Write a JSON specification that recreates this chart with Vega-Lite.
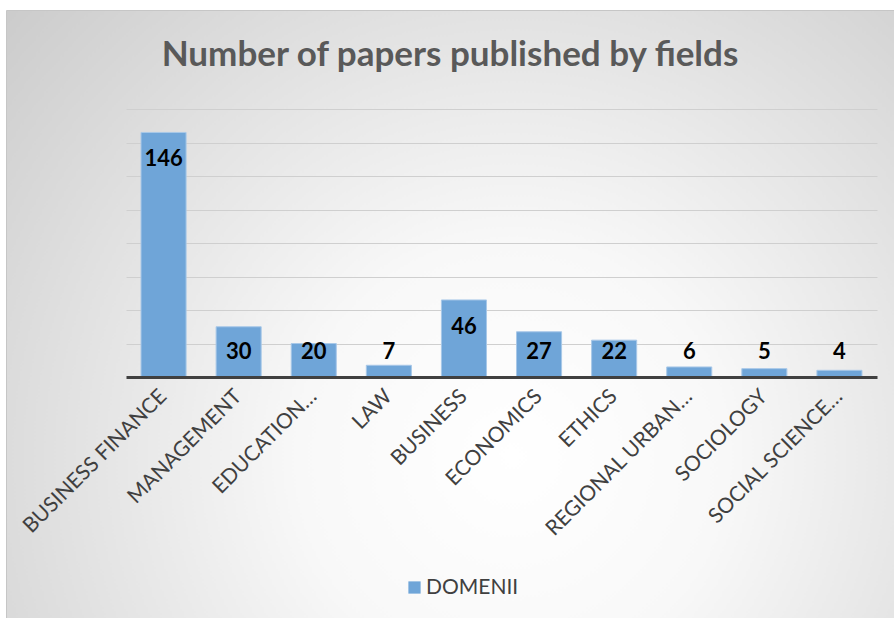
{
  "$schema": "https://vega.github.io/schema/vega-lite/v6.json",
  "autosize": {"type": "none"},
  "width": 888,
  "height": 608,
  "padding": {"left": 6, "top": 10, "right": 0, "bottom": 0},
  "background": "#ffffff",
  "title": {
    "text": "Number of papers published by fields",
    "font": "Lato",
    "fontSize": 35,
    "fontWeight": "bold",
    "color": "#595959",
    "anchor": "middle",
    "frame": "group",
    "baseline": "alphabetic",
    "offset": -91
  },
  "config": {
    "font": "Lato",
    "view": {
      "fill": {
        "gradient": "radial",
        "x1": 0.57, "y1": 0.66, "r1": 0,
        "x2": 0.57, "y2": 0.66, "r2": 0.8,
        "stops": [
          {"offset": 0, "color": "#ffffff"},
          {"offset": 0.3, "color": "#f8f8f8"},
          {"offset": 1, "color": "#c8c8c8"}
        ]
      },
      "stroke": "#c6c6c6",
      "strokeWidth": 1
    }
  },
  "data": {
    "values": [
      {"field": "BUSINESS FINANCE", "papers": 146},
      {"field": "MANAGEMENT", "papers": 30},
      {"field": "EDUCATION…", "papers": 20},
      {"field": "LAW", "papers": 7},
      {"field": "BUSINESS", "papers": 46},
      {"field": "ECONOMICS", "papers": 27},
      {"field": "ETHICS", "papers": 22},
      {"field": "REGIONAL URBAN…", "papers": 6},
      {"field": "SOCIOLOGY", "papers": 5},
      {"field": "SOCIAL SCIENCE…", "papers": 4}
    ]
  },
  "encoding": {
    "x": {
      "field": "field",
      "type": "nominal",
      "sort": null,
      "scale": {"range": [120, 871], "paddingInner": 0.4, "paddingOuter": 0.2},
      "axis": {
        "title": null,
        "offset": -241,
        "zindex": 1,
        "labelAngle": -45,
        "labelAlign": "right",
        "labelBaseline": "middle",
        "labelFont": "Lato",
        "labelFontSize": 21,
        "labelColor": "#404040",
        "labelPadding": 16,
        "labelLimit": 400,
        "ticks": false,
        "domainColor": "#404040",
        "domainWidth": 3
      }
    }
  },
  "layer": [
    {
      "mark": {"type": "bar", "stroke": "#a8c8e8", "strokeWidth": 1},
      "encoding": {
        "y": {
          "field": "papers",
          "type": "quantitative",
          "scale": {"domain": [0, 160], "range": [367, 99]},
          "axis": {
            "title": null,
            "labels": false,
            "ticks": false,
            "domain": false,
            "values": [20, 40, 60, 80, 100, 120, 140, 160],
            "gridColor": "#cfcfcf",
            "gridWidth": 1.2
          }
        },
        "color": {
          "datum": "DOMENII",
          "scale": {"range": ["#6fa5d8"]},
          "legend": {
            "title": null,
            "orient": "none",
            "legendX": 394,
            "legendY": 563,
            "symbolType": "square",
            "symbolSize": 150,
            "symbolStrokeWidth": 0,
            "labelFont": "Lato",
            "labelFontSize": 21,
            "labelColor": "#404040",
            "labelOffset": 1,
            "padding": 4
          }
        }
      }
    },
    {
      "transform": [{"filter": "datum.papers >= 40"}],
      "mark": {"type": "text", "dy": 27, "baseline": "middle", "font": "Lato", "fontSize": 22, "fontWeight": "bold", "color": "#000000"},
      "encoding": {
        "y": {"field": "papers", "type": "quantitative"},
        "text": {"field": "papers", "type": "quantitative"}
      }
    },
    {
      "transform": [{"filter": "datum.papers < 40"}],
      "mark": {"type": "text", "baseline": "middle", "font": "Lato", "fontSize": 22, "fontWeight": "bold", "color": "#000000"},
      "encoding": {
        "y": {"datum": 15, "type": "quantitative"},
        "text": {"field": "papers", "type": "quantitative"}
      }
    }
  ]
}
